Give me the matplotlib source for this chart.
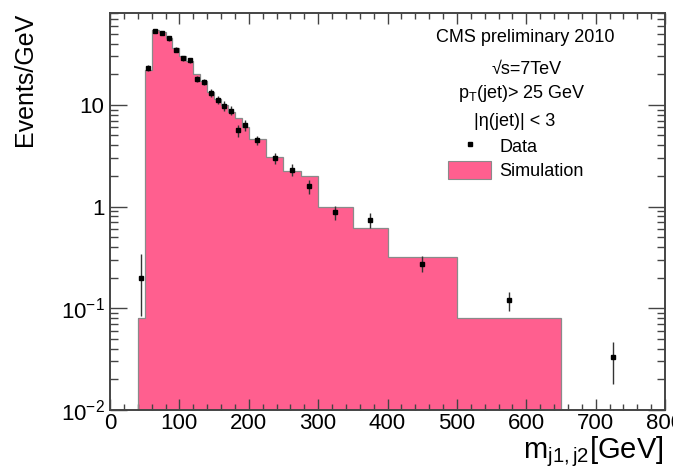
import matplotlib
matplotlib.use("Agg")
import matplotlib.pyplot as plt
from matplotlib.lines import Line2D
from matplotlib.patches import Patch
from matplotlib.ticker import FixedLocator, FixedFormatter, MultipleLocator, LogLocator, NullFormatter
import numpy as np

# histogram binning (GeV) and simulation height (Events/GeV)
bin_edges = [40, 50, 60, 70, 80, 90, 100, 110, 120, 130, 140, 150, 160, 170, 180, 190,
             200, 225, 250, 275, 300, 350, 400, 500, 650]
simulation = [0.08, 22, 55, 52, 45, 36, 30, 27, 20, 17, 13.5, 11.5, 10, 8.5, 7.5, 6.0,
              4.6, 3.1, 2.25, 2.0, 0.99, 0.62, 0.32, 0.08]

# data points
data_x = [45, 55, 65, 75, 85, 95, 105, 115, 125, 135, 145, 155, 165, 175, 185, 195,
          212.5, 237.5, 262.5, 287.5, 325, 375, 450, 575, 725]
data_y = [0.2, 23, 53, 51, 45, 35, 28.6, 27.4, 17.9, 16.8, 13.1, 11.2, 9.8, 8.8, 5.6, 6.3,
          4.5, 3.0, 2.3, 1.58, 0.875, 0.736, 0.275, 0.121, 0.033]
data_err_low = [0.116, 1.5, 2.3, 2.3, 2.1, 1.9, 1.7, 1.7, 1.3, 1.3, 1.1, 1.1, 1.0, 0.9, 0.75, 0.8,
                0.45, 0.35, 0.3, 0.25, 0.13, 0.12, 0.05, 0.028, 0.015]
data_err_high = [0.14, 1.5, 2.3, 2.3, 2.1, 1.9, 1.7, 1.7, 1.3, 1.3, 1.1, 1.1, 1.0, 0.9, 0.75, 0.8,
                 0.45, 0.35, 0.3, 0.25, 0.13, 0.12, 0.05, 0.025, 0.014]

y_tick_values = [0.01, 0.1, 1, 10]
y_tick_labels = ["$10^{-2}$", "$10^{-1}$", "1", "10"]

plt.rcParams["font.family"] = ["Liberation Sans", "DejaVu Sans"]
plt.rcParams["mathtext.fontset"] = "custom"
plt.rcParams["mathtext.rm"] = "Liberation Sans"
plt.rcParams["mathtext.it"] = "Liberation Sans:italic"

pink = "#ff5f8f"
frame_color = "#444444"

figure = plt.figure(figsize=(6.73, 4.70), dpi=100)
axis = figure.add_axes([110 / 673, 60 / 470, 555 / 673, 397 / 470])

axis.stairs(simulation, bin_edges, fill=True, color=pink, zorder=1)
axis.stairs(simulation, bin_edges, color="#8a8a8a", linewidth=0.9, zorder=2)

axis.errorbar(data_x, data_y, yerr=[data_err_low, data_err_high], fmt="s", color="black",
              markersize=3.5, ecolor="#333333", elinewidth=1.0, capsize=0, zorder=3)

axis.set_yscale("log")
axis.set_xlim(0, 800)
axis.set_ylim(0.01, 80)

axis.xaxis.set_major_locator(MultipleLocator(100))
axis.xaxis.set_minor_locator(MultipleLocator(20))
axis.yaxis.set_major_locator(FixedLocator(y_tick_values))
axis.yaxis.set_major_formatter(FixedFormatter(y_tick_labels))
axis.yaxis.set_minor_locator(LogLocator(base=10, subs=np.arange(2, 10)))
axis.yaxis.set_minor_formatter(NullFormatter())

axis.tick_params(which="both", direction="in", top=True, right=True, colors=frame_color,
                 labelcolor="black", labelsize=16, width=1.0)
axis.tick_params(axis="y", which="major", length=12, pad=4)
axis.tick_params(axis="y", which="minor", length=6)
axis.tick_params(axis="x", which="major", length=8, pad=2)
axis.tick_params(axis="x", which="minor", length=4)

for spine in axis.spines.values():
    spine.set_color(frame_color)
    spine.set_linewidth(1.4)

figure.text(25 / 673, 1 - 13 / 470, "Events/GeV", rotation=90, ha="center", va="top", fontsize=18)
figure.text(664 / 673, 1 - 469 / 470, r"m$_\mathregular{j1,j2}$[GeV]", ha="right", va="bottom", fontsize=21)

text_size = 13
figure.text(525 / 673, 1 - 38 / 470, "CMS preliminary 2010", ha="center", va="center", fontsize=text_size)
figure.text(527 / 673, 1 - 70 / 470, "√s=7TeV", ha="center", va="center", fontsize=text_size)
figure.text(522 / 673, 1 - 94 / 470, r"p$_\mathregular{T}$(jet)> 25 GeV", ha="center", va="center", fontsize=text_size)
figure.text(515 / 673, 1 - 122 / 470, "|η(jet)| < 3", ha="center", va="center", fontsize=text_size)

legend_handles = [
    Line2D([], [], marker="s", color="black", markersize=3.5, linestyle="none"),
    Patch(facecolor=pink, edgecolor="#8a8a8a", linewidth=0.8),
]
figure.legend(legend_handles, ["Data", "Simulation"], loc="upper left",
              bbox_to_anchor=(448 / 673, 1 - 137 / 470), frameon=False, fontsize=text_size,
              handlelength=2.4, handleheight=1.1, handletextpad=0.45, labelspacing=0.3,
              borderpad=0, borderaxespad=0)

figure.savefig("out.png", dpi=100)
plt.close(figure)
